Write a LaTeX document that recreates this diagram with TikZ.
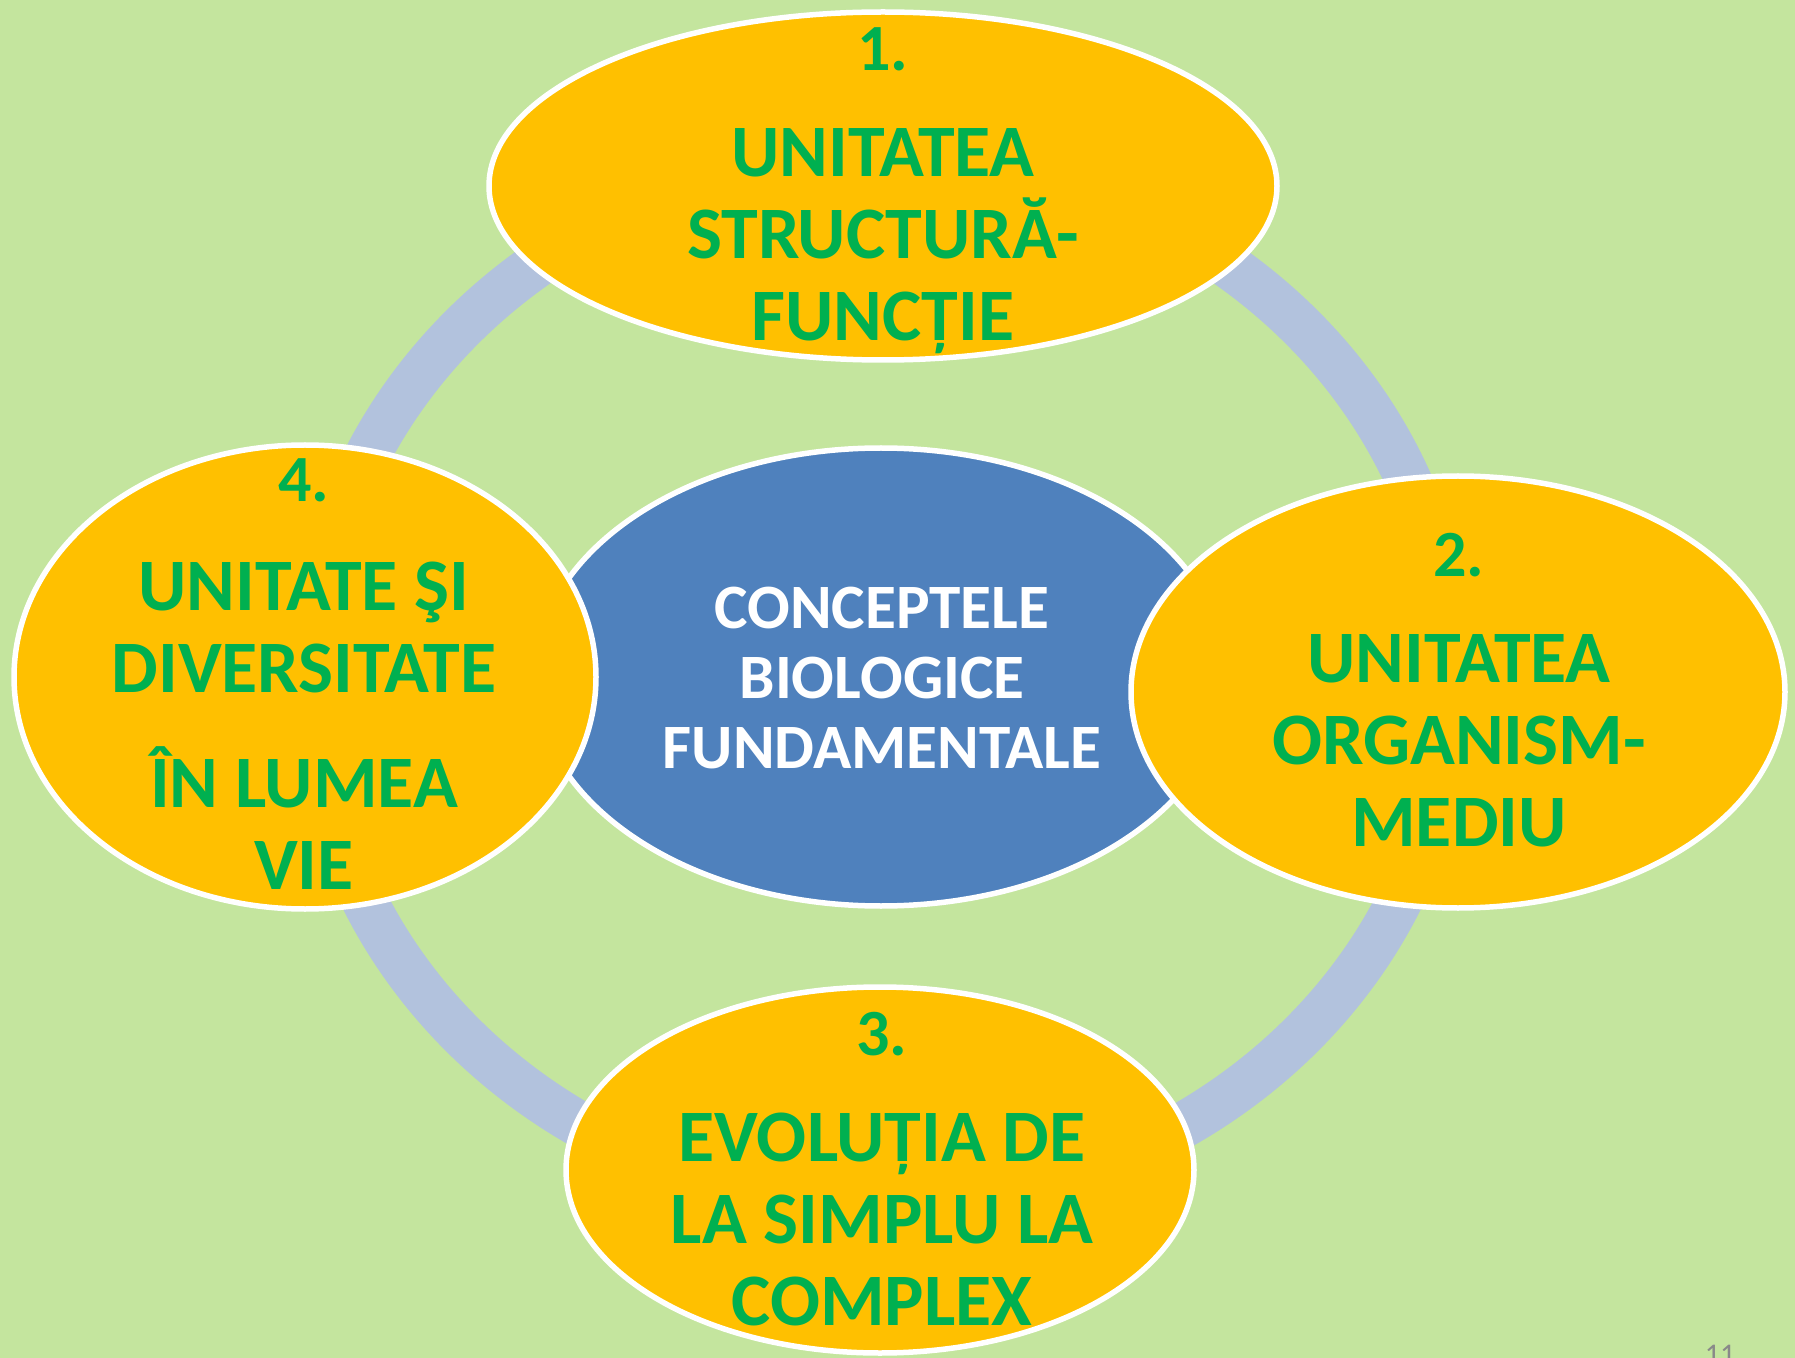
\documentclass[tikz,border=0pt]{standalone}
\usepackage{fontspec}
\setmainfont{Carlito}
\usetikzlibrary{shapes.geometric}
\definecolor{bggreen}{RGB}{196,229,158}
\definecolor{ringblue}{RGB}{178,194,221}
\definecolor{ellyellow}{RGB}{255,192,0}
\definecolor{txtgreen}{RGB}{0,176,80}
\definecolor{ellblue}{RGB}{79,129,189}
\definecolor{pagegray}{RGB}{137,137,137}
\begin{document}
\begin{tikzpicture}[x=0.5pt,y=-0.5pt,
  ell/.style={ellipse, draw=white, line width=2.75pt, inner sep=0pt},
  yell/.style={ell, fill=ellyellow},
  bell/.style={ell, fill=ellblue},
  ytext/.style={anchor=north, inner sep=0pt, align=center, text=txtgreen, font=\fontsize{37}{41}\selectfont\bfseries},
  btext/.style={anchor=north, inner sep=0pt, align=center, text=white, font=\fontsize{31.6}{35}\selectfont\bfseries},
  numf/.style={},
  ringline/.style={draw=ringblue, line width=23pt}]
\useasboundingbox[fill=bggreen] (0,0) rectangle (1795,1358);
\coordinate (rc) at (882,681);
\draw[ringline] (rc) ellipse [x radius=285pt, y radius=261.5pt];
\node[bell, minimum width=346pt, minimum height=229pt] (center) at (881,677) {};
\node[yell, minimum width=394pt, minimum height=174pt] (c1) at (883,186) {};
\node[yell, minimum width=291pt, minimum height=232pt] (c4) at (305,677) {};
\node[yell, minimum width=327pt, minimum height=216pt] (c2) at (1458,692) {};
\node[yell, minimum width=314pt, minimum height=183pt] (c3) at (880,1170) {};
\node[btext] (tc) at (882,587) {CONCEPTELE\\ BIOLOGICE\\ FUNDAMENTALE};
\node[ytext] (t1) at (883,27) {{\fontsize{33}{41}\selectfont 1.}\\[12pt] UNITATEA\\ STRUCTURĂ-\\ FUNCȚIE};
\node[ytext] (t4) at (304,458) {{\fontsize{33}{41}\selectfont 4.}\\[13.5pt] UNITATE ŞI\\ DIVERSITATE\\[16.5pt] ÎN LUMEA\\ VIE};
\node[ytext] (t2) at (1459,533) {{\fontsize{33}{41}\selectfont 2.}\\[12pt] UNITATEA\\ ORGANISM-\\ MEDIU};
\node[ytext] (t3) at (882,1012) {{\fontsize{33}{41}\selectfont 3.}\\[12pt] EVOLUȚIA DE\\ LA SIMPLU LA\\ COMPLEX};
\node[anchor=north, inner sep=0pt, text=pagegray, font=\fontsize{15}{18}\selectfont] (pg) at (1720,1345) {11};
\end{tikzpicture}
\end{document}
